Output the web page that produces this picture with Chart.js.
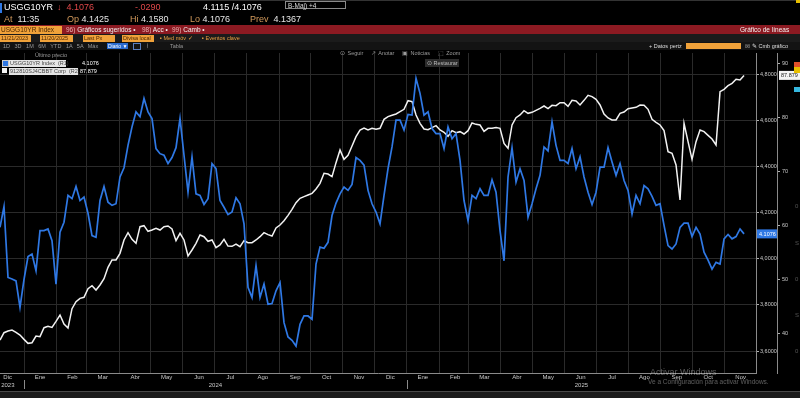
<!DOCTYPE html>
<html lang="es">
<head>
<meta charset="utf-8">
<title>USGG10YR — Gráfico de líneas</title>
<script src="https://cdn.jsdelivr.net/npm/chart.js@4.4.1/dist/chart.umd.min.js"></script>
<style>
  html, body { margin: 0; padding: 0; background: #000; }
  #pantalla { position: relative; width: 800px; height: 398px; overflow: hidden; background: #000;
    font-family: 'Liberation Sans', Arial, sans-serif; color: #e6e6e6; }
  #grafico { position: absolute; left: 0; top: 0; z-index: 1; }
  .t { position: absolute; white-space: nowrap; z-index: 2; line-height: 1; }
  .barra { position: absolute; left: 0; width: 800px; z-index: 2; }
  .naranja { position: absolute; z-index: 3; background: #f0a23a; color: #4a2600; font-size: 5.5px;
    line-height: 7px; height: 7px; padding-left: 1px; overflow: hidden; white-space: nowrap; }
  .lbl { color: #d39a5c; }
  .gris { color: #9a9a9a; }
</style>
</head>
<body>
<div id="pantalla">
  <canvas id="grafico" width="800" height="398"></canvas>

  <!-- ── CABECERA ───────────────────────────── -->
  <div class="barra" style="top:0;height:1px;background:#333"></div>
  <div class="t" style="left:0;top:3px;width:2px;height:10px;background:#2f78e4"></div>
  <div class="t" style="left:4px;top:3px;font-size:9px;color:#fff">USGG10YR</div>
  <div class="t" style="left:57px;top:3px;font-size:9px;color:#e0484a">↓&nbsp; 4.1076</div>
  <div class="t" style="left:135px;top:3px;font-size:9px;color:#e0484a">-.0290</div>
  <div class="t" style="left:203px;top:3px;font-size:9px;color:#fff">4.1115 /4.1076</div>
  <div class="t" style="left:285px;top:1px;width:61px;height:8px;border:1px solid #8a8a8a;font-size:6.5px;line-height:8px;color:#ddd;padding-left:2px;box-sizing:border-box">B-Maj) +4</div>

  <div class="t" style="left:4px;top:15px;font-size:9px"><span class="lbl">At</span>&nbsp; 11:35</div>
  <div class="t" style="left:67px;top:15px;font-size:9px"><span class="lbl">Op</span> 4.1425</div>
  <div class="t" style="left:130px;top:15px;font-size:9px"><span class="lbl">Hi</span> 4.1580</div>
  <div class="t" style="left:190px;top:15px;font-size:9px"><span class="lbl">Lo</span> 4.1076</div>
  <div class="t" style="left:250px;top:15px;font-size:9px"><span class="lbl">Prev</span>&nbsp; 4.1367</div>

  <div class="barra" style="top:25px;height:9px;background:#8c1a22"></div>
  <div class="naranja" style="left:0;top:26px;width:61px;height:8px;font-size:6.5px;line-height:8px">USGG10YR Index</div>
  <div class="t" style="left:66px;top:27px;font-size:6.5px;color:#f2f2f2"><span style="color:#e9b0b0">96)</span> Gráficos sugeridos •</div>
  <div class="t" style="left:142px;top:27px;font-size:6.5px;color:#f2f2f2"><span style="color:#e9b0b0">98)</span> Acc •</div>
  <div class="t" style="left:172px;top:27px;font-size:6.5px;color:#f2f2f2"><span style="color:#e9b0b0">99)</span> Camb •</div>
  <div class="t" style="left:740px;top:27px;font-size:6.5px;color:#f2f2f2">Gráfico de líneas</div>

  <div class="barra" style="top:34px;height:8px;background:#1b1b1b"></div>
  <div class="naranja" style="left:0;top:35px;width:30px">11/21/2023</div>
  <div class="naranja" style="left:40px;top:35px;width:32px">11/20/2025</div>
  <div class="naranja" style="left:83px;top:35px;width:31px">Last Px</div>
  <div class="naranja" style="left:122px;top:35px;width:31px">Divisa local</div>
  <div class="t" style="left:160px;top:36px;font-size:5.5px;color:#e8a040">▪ Med móv ✓</div>
  <div class="t" style="left:202px;top:36px;font-size:5.5px;color:#e8a040">▪ Eventos clave</div>

  <div class="barra" style="top:42px;height:8px;background:#131313"></div>
  <div class="t gris" style="left:3px;top:43.5px;font-size:5.5px;word-spacing:3px">1D 3D 1M 6M YTD 1A 5A Máx</div>
  <div class="t" style="left:107px;top:43px;width:20px;height:6px;background:#2a6bd0;font-size:5px;line-height:6px;color:#fff;padding-left:1px">Diario ▼</div>
  <div class="t" style="left:133px;top:43px;width:6px;height:5px;border:1px solid #5a7fc0"></div>
  <div class="t gris" style="left:146px;top:43.5px;font-size:5.5px">⌇</div>
  <div class="t gris" style="left:170px;top:43.5px;font-size:5.5px">Tabla</div>
  <div class="t" style="left:649px;top:43.5px;font-size:5.5px;color:#ddd">+ Datos pertz</div>
  <div class="t" style="left:686px;top:43px;width:55px;height:6px;background:#f0a23a"></div>
  <div class="t gris" style="left:745px;top:43.5px;font-size:5.5px">⊠</div>
  <div class="t" style="left:752px;top:43.5px;font-size:5.5px;color:#ddd">✎ Cmb gráfico</div>

  <!-- ── BARRA DE HERRAMIENTAS Y LEYENDA ─────── -->
  <div class="t gris" style="left:340px;top:51px;font-size:5.5px;word-spacing:1px">⊙ Seguir &nbsp; ↗ Anotar &nbsp; ▣ Noticias &nbsp; ⬚ Zoom</div>
  <div class="t" style="left:425px;top:59px;width:34px;height:8px;background:#2b2b2b;font-size:5.5px;line-height:8px;color:#bbb;padding-left:2px;box-sizing:border-box">⊙ Restaurar</div>

  <div class="t gris" style="left:35px;top:53px;font-size:5.5px">Último precio</div>
  <div class="t" style="left:2px;top:60px;width:5px;height:5px;background:#2f78e4;border:0.5px solid #ccc"></div>
  <div class="t" style="left:9px;top:59.5px;width:57px;height:7px;background:#e4e4e4;color:#444;font-size:5.5px;line-height:7px;padding-left:1px;box-sizing:border-box">USGG10YR Index &nbsp;(R1)</div>
  <div class="t" style="left:82px;top:60.5px;font-size:5.5px;color:#fff">4.1076</div>
  <div class="t" style="left:2px;top:68px;width:5px;height:5px;background:#f4f4f4"></div>
  <div class="t" style="left:9px;top:67.5px;width:69px;height:7px;background:#e4e4e4;color:#444;font-size:5.5px;line-height:7px;padding-left:1px;box-sizing:border-box">912810SJ4CBBT Corp &nbsp;(R2)</div>
  <div class="t" style="left:80px;top:68.5px;font-size:5.5px;color:#fff">87.879</div>

  <!-- restos de otros indicadores en el borde derecho -->
  <div class="t" style="left:796px;top:0;width:4px;height:3px;background:#e8c000"></div>
  <div class="t" style="left:794px;top:62px;width:6px;height:5px;background:#e0502a"></div>
  <div class="t" style="left:794px;top:67px;width:6px;height:6px;background:#e8c000"></div>
  <div class="t" style="left:794px;top:87px;width:6px;height:5px;background:#35b8e0"></div>
  <div class="t" style="left:795px;top:203px;font-size:6px;color:#555">0</div>
  <div class="t" style="left:795px;top:240px;font-size:6px;color:#555">S</div>
  <div class="t" style="left:795px;top:276px;font-size:6px;color:#555">0</div>
  <div class="t" style="left:795px;top:312px;font-size:6px;color:#555">S</div>
  <div class="t" style="left:795px;top:348px;font-size:6px;color:#555">0</div>

  <!-- ── PIE ─────────────────────────────────── -->
  <div class="t" style="left:650px;top:368px;font-size:9px;color:rgba(255,255,255,0.35)">Activar Windows</div>
  <div class="t" style="left:648px;top:379px;font-size:6.5px;color:rgba(255,255,255,0.35)">Ve a Configuración para activar Windows.</div>
  <div class="barra" style="top:391px;height:7px;background:#1c1c1c;border-top:1px solid #4a4a4a"></div>
</div>

<script>
// ═══════════════════════════════════════════════
// USGG10YR vs 912810SJ4CBBT — datos leídos del gráfico
// eje x: días desde el 1 de diciembre de 2023
// ═══════════════════════════════════════════════

const diaInicial = 8;        // primer dato (9 dic 2023)
const diaFinal   = 731;      // 1 dic 2025, borde derecho
const pasoDias   = 3.8256;   // separación entre muestras

// Rendimiento del bono a 10 años (eje R1)
const rendimiento = [
  4.136, 4.226, 3.919, 3.912, 3.904, 3.789, 3.910, 4.009, 4.020, 3.948,
  4.122, 4.122, 4.129, 4.078, 3.890, 4.115, 4.158, 4.274, 4.260, 4.313,
  4.252, 4.267, 4.197, 4.100, 4.093, 4.252, 4.313, 4.245, 4.231, 4.238,
  4.354, 4.394, 4.491, 4.571, 4.636, 4.615, 4.694, 4.636, 4.607, 4.477,
  4.455, 4.448, 4.412, 4.438, 4.481, 4.607, 4.448, 4.289, 4.441, 4.281,
  4.274, 4.235, 4.260, 4.412, 4.390, 4.252, 4.223, 4.191, 4.202, 4.264,
  4.238, 4.151, 3.876, 3.832, 3.970,
  3.832, 3.890, 3.803, 3.806, 3.861, 3.897, 3.723, 3.661, 3.647, 3.622,
  3.716, 3.752, 3.752, 3.738, 3.977, 4.050, 4.045, 4.071, 4.187, 4.241,
  4.281, 4.310, 4.296, 4.322, 4.438, 4.426, 4.405, 4.296, 4.238, 4.202,
  4.151, 4.274, 4.390, 4.484, 4.600, 4.600, 4.557, 4.625, 4.622, 4.781,
  4.716, 4.622, 4.636, 4.564, 4.542, 4.542, 4.477, 4.571, 4.520, 4.542,
  4.426, 4.252, 4.165, 4.274, 4.260, 4.303, 4.274, 4.274, 4.342, 4.288,
  4.122, 3.991, 4.354,
  4.481, 4.332, 4.390, 4.339, 4.180, 4.238, 4.303, 4.361, 4.484, 4.467,
  4.593, 4.491, 4.426, 4.426, 4.412, 4.477, 4.390, 4.441, 4.354, 4.288,
  4.235, 4.288, 4.397, 4.397, 4.481, 4.419, 4.361, 4.412, 4.339, 4.296,
  4.194, 4.274, 4.238, 4.317, 4.303, 4.270, 4.231, 4.238, 4.144, 4.057,
  4.042, 4.064, 4.136, 4.154, 4.154, 4.096, 4.136, 4.107, 4.028, 3.994,
  3.955, 3.984, 3.977, 4.086, 4.105, 4.086, 4.096, 4.129, 4.1076
];

// Precio del bono 912810SJ4 (eje R2)
const precio = [
  38.70, 40.06, 40.37, 40.56, 40.13, 39.63, 38.82, 38.08, 38.20, 39.44,
  39.32, 40.99, 41.24, 41.05, 42.17, 43.35, 41.67, 40.93, 44.52, 45.82,
  46.44, 46.63, 48.24, 48.80, 47.99, 48.92, 50.10, 52.20, 53.57, 53.57,
  54.81, 57.29, 58.65, 57.41, 56.67, 59.76, 59.95, 58.90, 59.14, 59.45,
  59.14, 59.76, 59.89, 59.33, 57.16, 58.52, 57.29, 54.31, 55.43, 56.67,
  58.21, 57.90, 57.04, 57.29, 55.86, 56.36, 57.41, 56.17, 56.11, 56.54,
  56.05, 57.16, 56.79, 56.79, 57.29,
  57.90, 58.65, 58.28, 58.03, 59.52, 60.07, 60.88, 61.87, 62.98, 64.22,
  65.03, 65.34, 65.65, 65.96, 66.76, 67.82, 69.68, 69.55, 69.06, 71.66,
  74.01, 72.28, 73.02, 74.76, 76.49, 77.73, 78.10, 77.73, 78.04, 77.86,
  78.04, 79.71, 80.21, 80.46, 80.71, 81.14, 81.57, 83.18, 83.00, 80.52,
  78.97, 77.92, 77.79, 78.17, 78.54, 77.73, 77.30, 76.55, 77.61, 77.24,
  77.42, 76.99, 77.61, 79.03, 78.78, 78.66, 77.48, 78.04, 78.04, 78.17,
  78.04, 75.25, 74.32,
  78.66, 80.02, 80.52, 81.33, 80.83, 81.01, 81.39, 81.76, 82.19, 81.70,
  82.32, 82.26, 82.81, 82.81, 82.13, 83.24, 83.12, 82.38, 83.24, 84.18,
  83.93, 83.43, 82.38, 80.71, 79.96, 79.59, 79.59, 80.83, 81.08, 81.70,
  81.82, 81.95, 82.38, 82.32, 81.57, 79.71, 79.16, 78.66, 77.61, 73.70,
  73.39, 71.23, 64.72, 78.97, 75.56, 72.28, 75.56, 77.73, 77.42, 76.74,
  76.06, 74.94, 84.86, 85.29, 85.97, 86.40, 87.15, 87.02, 87.879
];

// Eje de tiempo
const inicioMes    = [0, 31, 62, 91, 122, 152, 183, 213, 244, 275, 305, 336,
                      366, 397, 428, 456, 487, 517, 548, 578, 609, 640, 670, 701];
const etiquetasMes = ['Dic', 'Ene', 'Feb', 'Mar', 'Abr', 'May', 'Jun', 'Jul', 'Ago', 'Sep', 'Oct', 'Nov',
                      'Dic', 'Ene', 'Feb', 'Mar', 'Abr', 'May', 'Jun', 'Jul', 'Ago', 'Sep', 'Oct', 'Nov'];
const anios        = ['2023', '2024', '2025'];
const inicioAnio   = [0, 31, 397];
const finAnio      = [31, 397, 731];

// Ejes verticales
const ticksRend   = [3.6, 3.8, 4.0, 4.2, 4.4, 4.6, 4.8];
const ticksPrecio = [40, 50, 60, 70, 80, 90];

const AZUL   = '#2f78e4';
const BLANCO = '#f2f2f2';
const FUENTE = '"Liberation Sans", Arial, sans-serif';

// ── HELPERS ────────────────────────────────────
const aPuntos = serie => serie.map((v, i) => ({ x: diaInicial + i * pasoDias, y: v }));

function cajaValor(c, x, y, ancho, fondo, tinta, texto) {
  c.save();
  c.fillStyle = fondo;
  c.fillRect(x, y - 4.5, ancho, 9);
  c.fillStyle = tinta;
  c.font = '5.5px ' + FUENTE;
  c.textBaseline = 'middle';
  c.textAlign = 'left';
  c.fillText(texto, x + 2, y + 0.5);
  c.restore();
}

// Cajas con el último valor, rótulos de año y separadores
const marcasFinales = {
  id: 'marcasFinales',
  afterDraw(chart) {
    const c = chart.ctx;
    const yR = chart.scales.yRend, yP = chart.scales.yPrecio, x = chart.scales.x;
    const vR = rendimiento[rendimiento.length - 1];
    const vP = precio[precio.length - 1];
    cajaValor(c, yR.left + 1, yR.getPixelForValue(vR), 20, AZUL, '#fff', vR.toFixed(4));
    cajaValor(c, yP.left + 2, yP.getPixelForValue(vP), 22, '#f4f4f4', '#222', vP.toFixed(3));

    c.save();
    // años centrados sobre su tramo
    c.fillStyle = '#c8c8c8';
    c.font = '6px ' + FUENTE;
    c.textAlign = 'center';
    c.textBaseline = 'middle';
    anios.forEach((a, i) => {
      c.fillText(a, x.getPixelForValue((inicioAnio[i] + finAnio[i]) / 2), 385);
    });
    // separadores de año
    c.strokeStyle = '#8a8a8a';
    c.lineWidth = 1;
    inicioAnio.slice(1).forEach(d => {
      const px = Math.round(x.getPixelForValue(d)) + 0.5;
      c.beginPath();
      c.moveTo(px, 380);
      c.lineTo(px, 389);
      c.stroke();
    });
    c.restore();
  }
};

// ── GRÁFICO ────────────────────────────────────
Chart.defaults.font.family = FUENTE;

new Chart(document.getElementById('grafico'), {
  type: 'line',
  data: {
    datasets: [
      {
        label: 'USGG10YR Index',
        data: aPuntos(rendimiento),
        yAxisID: 'yRend',
        borderColor: AZUL, borderWidth: 1.7,
        pointRadius: 0, tension: 0, fill: false
      },
      {
        label: '912810SJ4CBBT Corp',
        data: aPuntos(precio),
        yAxisID: 'yPrecio',
        borderColor: BLANCO, borderWidth: 1.5,
        pointRadius: 0, tension: 0, fill: false
      }
    ]
  },
  options: {
    responsive: false,
    animation: false,
    events: [],
    layout: { padding: { top: 53, left: 0, right: 0, bottom: 0 } },
    plugins: { legend: { display: false }, tooltip: { enabled: false } },
    scales: {
      x: {
        type: 'linear', position: 'bottom',
        min: diaInicial, max: diaFinal,
        afterBuildTicks: s => { s.ticks = inicioMes.map(v => ({ value: v })); },
        afterFit: s => { s.height = 25; s.paddingLeft = 0; s.paddingRight = 0; },
        grid: { color: '#2a2a2a', drawTicks: false },
        border: { display: true, color: '#8a8a8a' },
        ticks: {
          autoSkip: false, maxRotation: 0, minRotation: 0,
          labelOffset: 16, padding: 1,
          color: '#c8c8c8', font: { size: 6 },
          callback: (v, i) => etiquetasMes[i]
        }
      },
      yRend: {
        type: 'linear', position: 'right', weight: 0,
        min: 3.505, max: 4.891,
        afterBuildTicks: s => { s.ticks = ticksRend.map(v => ({ value: v })); },
        afterFit: s => { s.width = 21; },
        grid: { color: '#2a2a2a', drawTicks: true, tickLength: 3, tickColor: '#b0b0b0' },
        border: { display: true, color: '#8a8a8a' },
        ticks: {
          padding: 1, color: '#c8c8c8', font: { size: 5.5 },
          callback: v => v.toFixed(4).replace('.', ',')
        }
      },
      yPrecio: {
        type: 'linear', position: 'right', weight: 1,
        min: 32.57, max: 92.04,
        afterBuildTicks: s => { s.ticks = ticksPrecio.map(v => ({ value: v })); },
        afterFit: s => { s.width = 23; },
        grid: { drawOnChartArea: false, drawTicks: true, tickLength: 3, tickColor: '#b0b0b0' },
        border: { display: true, color: '#8a8a8a' },
        ticks: {
          padding: 2, color: '#c8c8c8', font: { size: 5.5 },
          callback: v => String(v)
        }
      }
    }
  },
  plugins: [marcasFinales]
});
</script>
</body>
</html>
